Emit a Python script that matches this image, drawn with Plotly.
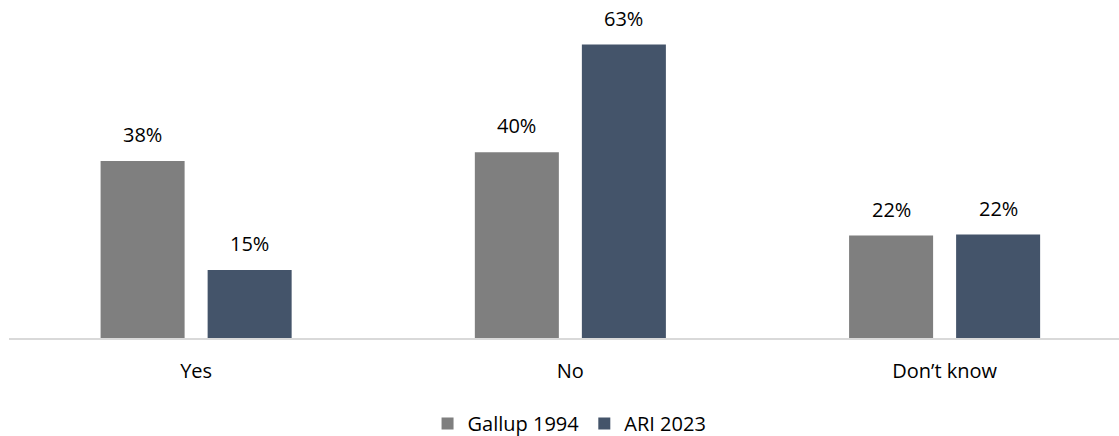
import plotly.graph_objects as go

categories = ["Yes", "No", "Don’t know"]
gallup_1994 = [38.0, 39.9, 22.0]
ari_2023 = [14.6, 63.0, 22.2]
series_names = ["Gallup 1994", "ARI 2023"]
colors = ["#7F7F7F", "#44546A"]

BARGAP = 0.428
GROUPGAP = 0.215
FONT = "Open Sans"

fig = go.Figure()
for name, vals, col in zip(series_names, [gallup_1994, ari_2023], colors):
    fig.add_trace(go.Bar(name=name, x=categories, y=vals, marker=dict(color=col, line=dict(width=0)),
                         hoverinfo="skip"))

# data labels above bars
slot_off = (1 - BARGAP) / 4
for k, vals in enumerate([gallup_1994, ari_2023]):
    off = -slot_off if k == 0 else slot_off
    for i, v in enumerate(vals):
        fig.add_annotation(x=i + off, y=v, xref="x", yref="y", text=f"{round(v)}%",
                           showarrow=False, yanchor="bottom", yshift=12, borderpad=0,
                           font=dict(family=FONT, size=20, color="#000000"))

fig.update_layout(
    width=1119, height=436,
    margin=dict(l=9, r=0, t=8, b=97.5, autoexpand=False),
    barmode="group", bargap=BARGAP, bargroupgap=GROUPGAP,
    plot_bgcolor="white", paper_bgcolor="white",
    font=dict(family=FONT, size=20, color="#000000"),
    showlegend=True,
    legend=dict(orientation="h", x=0.505, xanchor="center", y=-0.259, yanchor="middle",
                font=dict(family=FONT, size=20, color="#000000"), itemwidth=30,
                traceorder="normal"),
    xaxis=dict(range=[-0.5, 2.466], showline=True, linecolor="#D9D9D9", linewidth=1.5,
               ticks="outside", ticklen=14, tickcolor="rgba(0,0,0,0)", showgrid=False,
               automargin=False,
               tickfont=dict(family=FONT, size=20, color="#000000"), fixedrange=True),
    yaxis=dict(range=[0, 70.85], visible=False, showgrid=False, fixedrange=True),
)

fig.write_html("out.html", config={"displayModeBar": False},
               post_script="document.body.style.margin='0';document.body.style.overflow='hidden';")
